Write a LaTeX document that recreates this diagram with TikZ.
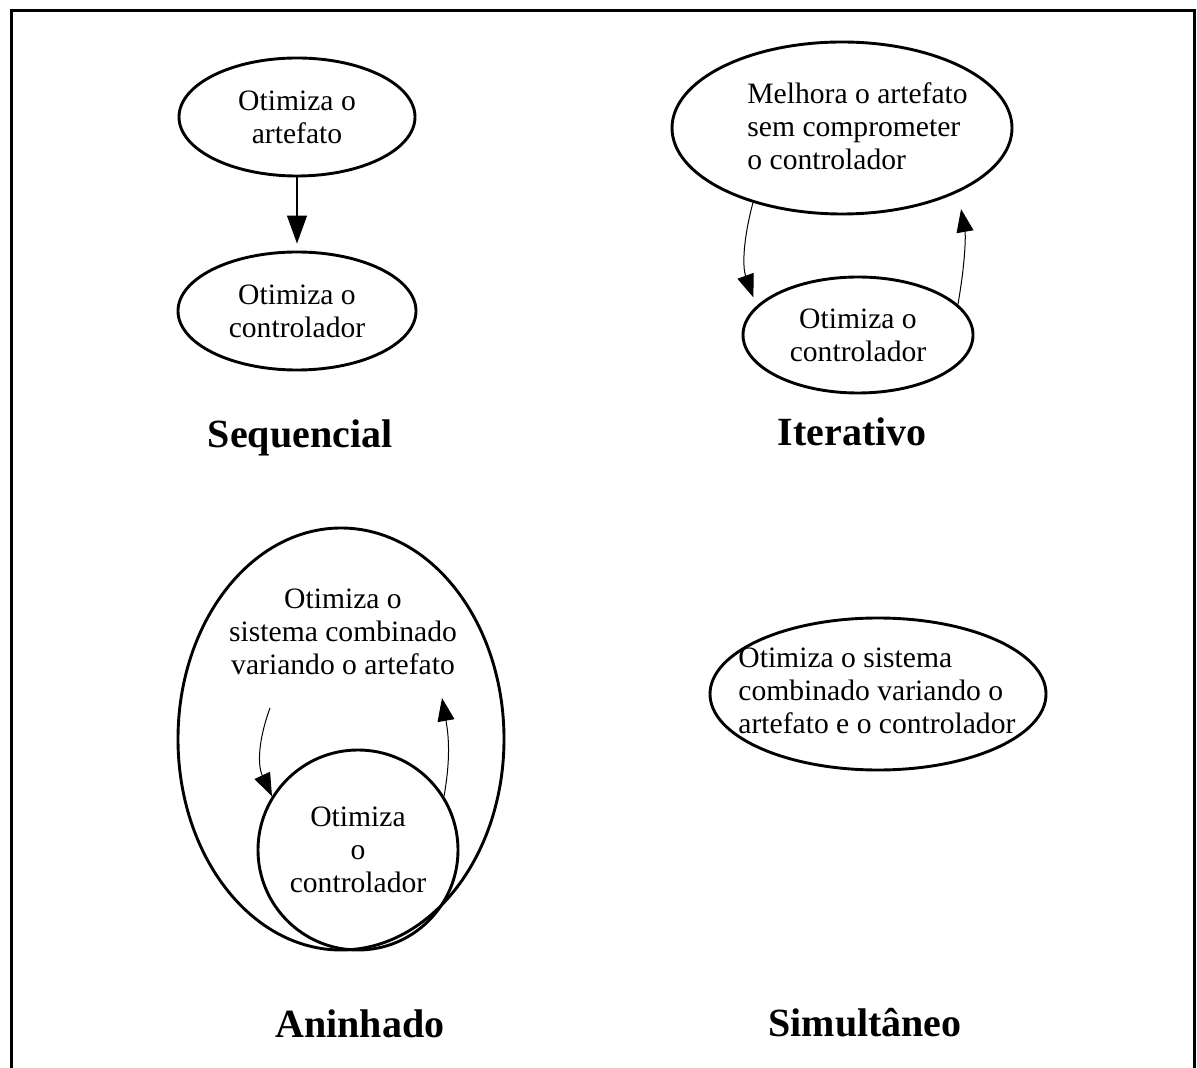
\documentclass[tikz,border=0pt]{standalone}
\usepackage{fontspec}
\setmainfont{Liberation Serif}
\usetikzlibrary{shapes.geometric,arrows.meta}
\tikzset{
  ell/.style={draw, ellipse, line width=1.45pt, inner sep=0pt},
  circ/.style={draw, circle, line width=1.45pt, inner sep=0pt},
  body/.style={inner sep=0pt, font=\fontsize{14.8pt}{16.6pt}\selectfont, align=center},
  bodyl/.style={inner sep=0pt, font=\fontsize{14.8pt}{16.6pt}\selectfont, align=left, anchor=west},
  ttl/.style={inner sep=0pt, font=\fontsize{20pt}{24pt}\selectfont\bfseries, anchor=base},
  bigarr/.style={line width=0.6pt, -{Triangle[length=14pt,width=10pt]}},
  arr/.style={line width=0.5pt, -{Triangle[length=11.5pt,width=8.5pt]}},
}
\begin{document}
\begin{tikzpicture}[x=0.5pt,y=-0.5pt]
\useasboundingbox (0,0) rectangle (1197,1068);
% frame
\draw[line width=1.5pt] (11,1068) -- (11,11) -- (1194,11) -- (1194,1068);

% Sequencial
\node[ell, body, minimum width=118pt, minimum height=59pt] (s1) at (297,117) {Otimiza o\\artefato};
\node[ell, body, minimum width=119pt, minimum height=59pt] (s2) at (297,311) {Otimiza o\\controlador};
\draw[bigarr, shorten >=3.5pt] (s1.south) -- (s2.north);
\node[ttl] (t1) at (300,448) {Sequencial};

% Iterativo
\node[ell, minimum width=170pt, minimum height=86pt] (i1) at (842,128) {};
\node[bodyl] (i1t) at (747,126) {Melhora o artefato\\sem comprometer\\o controlador};
\node[ell, body, minimum width=115pt, minimum height=58pt] (i2) at (858,335) {Otimiza o\\controlador};
\draw[arr, shorten >=4.5pt] (i1.220) to[out=255, in=110] (i2.164);
\draw[arr, shorten >=8.5pt] (i2.17) to[out=80, in=-80] (i1.-29);
\node[ttl] (t2) at (852,446) {Iterativo};

% Aninhado
\node[ell, minimum width=163pt, minimum height=211pt] (n1) at (341,739) {};
\node[body] (n1t) at (343,632) {Otimiza o\\sistema combinado\\variando o artefato};
\node[circ, body, minimum size=100pt] (n2) at (358,850) {Otimiza\\o\\controlador};
\coordinate (na) at (270,708);
\coordinate (nb) at (442,698);
\draw[arr] (na) to[out=250, in=115] (n2.148);
\draw[arr] (n2.32) to[out=80, in=-80] (nb);
\node[ttl] (t3) at (360,1037) {Aninhado};

% Simultaneo
\node[ell, minimum width=168pt, minimum height=76pt] (m1) at (878,694) {};
\node[bodyl] (m1t) at (738,691) {Otimiza o sistema\\combinado variando o\\artefato e o controlador};
\node[ttl] (t4) at (865,1036) {Simultâneo};
\end{tikzpicture}
\end{document}
